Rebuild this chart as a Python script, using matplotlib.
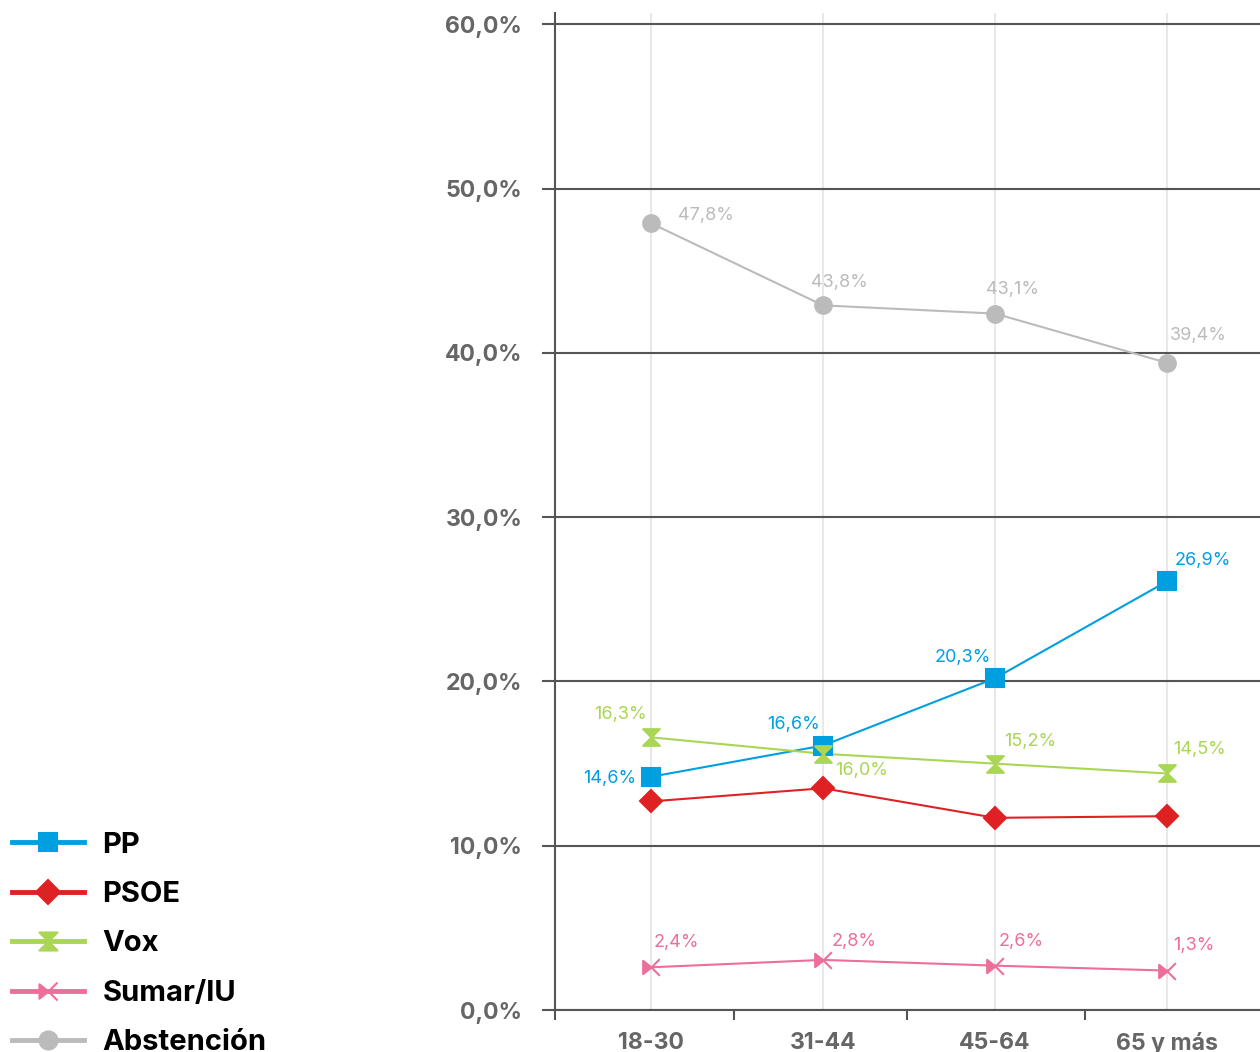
import numpy as np
import matplotlib
matplotlib.use("Agg")
import matplotlib.pyplot as plt
from matplotlib.path import Path

plt.rcParams['font.family'] = ['Inter', 'DejaVu Sans']

# =============================================================================
# Data
# =============================================================================

groups = ['18-30', '31-44', '45-64', '65 y más']

pp = [14.2, 16.1, 20.2, 26.1]
psoe = [12.7, 13.5, 11.7, 11.8]
vox = [16.6, 15.6, 15.0, 14.4]
sumar = [2.6, 3.05, 2.7, 2.4]
abst = [47.9, 42.9, 42.4, 39.4]

pp_lbl = ['14,6%', '16,6%', '20,3%', '26,9%']
psoe_lbl = None
vox_lbl = ['16,3%', '16,0%', '15,2%', '14,5%']
sumar_lbl = ['2,4%', '2,8%', '2,6%', '1,3%']
abst_lbl = ['47,8%', '43,8%', '43,1%', '39,4%']

yticks = [0, 10, 20, 30, 40, 50, 60]

# =============================================================================
# Markers
# =============================================================================

hourglass = Path([(-1, 1), (1, 1), (0, 0), (-1, -1), (1, -1), (0, 0), (-1, 1)],
                 [Path.MOVETO, Path.LINETO, Path.LINETO, Path.LINETO,
                  Path.LINETO, Path.LINETO, Path.CLOSEPOLY])
crossmark = Path([(-1, 0.8), (0, 0), (-1, -0.8), (-1, 0.8),
                  (0, 0), (1, 1), (0, 0), (1, -1)],
                 [Path.MOVETO, Path.LINETO, Path.LINETO, Path.CLOSEPOLY,
                  Path.MOVETO, Path.LINETO, Path.MOVETO, Path.LINETO])

series = [
    ('PP', pp, pp_lbl, '#009fdf', 's', 12.5),
    ('PSOE', psoe, psoe_lbl, '#e02124', 'D', 11),
    ('Vox', vox, vox_lbl, '#a9d654', hourglass, 12),
    ('Sumar/IU', sumar, sumar_lbl, '#ec6f9a', crossmark, 12),
    ('Abstención', abst, abst_lbl, '#bbbbbb', 'o', 12),
]

# label offsets in pixels (dx, dy, ha)
offsets = {
    'PP': [(-15, 0, 'right'), (-3, 23, 'right'), (-4, 23, 'right'), (8, 23, 'left')],
    'Vox': [(-4, 25, 'right'), (12, -15, 'left'), (9, 24, 'left'), (6, 26, 'left')],
    'Sumar/IU': [(3, 27, 'left'), (9, 20, 'left'), (4, 26, 'left'), (6, 27, 'left')],
    'Abstención': [(27, 10, 'left'), (-12, 25, 'left'), (-9, 26, 'left'), (3, 29, 'left')],
}

# =============================================================================
# Plot
# =============================================================================

fig = plt.figure(figsize=(12.6, 10.52), dpi=100)
ax = fig.add_axes([555 / 1260, 42 / 1052, 705 / 1260, 997 / 1052])

x = np.arange(len(groups))
handles = []
for name, vals, lbls, col, mk, ms in series:
    ax.plot(x, vals, '-', color=col, linewidth=1.5, zorder=3)
    ax.plot(x, vals, linestyle='none', marker=mk, markersize=ms,
            color=col, markeredgecolor=col, markeredgewidth=1.5, zorder=4)
    h, = ax.plot([], [], '-', color=col, linewidth=3.5, marker=mk,
                 markersize=ms + 1, markeredgecolor=col, markeredgewidth=1.5)
    handles.append(h)
    if lbls is None:
        continue
    for i, (v, t) in enumerate(zip(vals, lbls)):
        dx, dy, ha = offsets[name][i]
        ax.annotate(t, (x[i], v), xytext=(dx, dy - 2), textcoords='offset pixels',
                    ha=ha, va='center', color=col, fontsize=13, zorder=5)

# Axes limits
ax.set_xlim(-0.558, 3.54)
ax.set_ylim(0, 60.7)

# Y axis
ax.set_yticks(yticks)
ax.set_yticklabels([f'{v:.1f}%'.replace('.', ',') for v in yticks],
                   fontsize=16.6, fontweight='bold', color='#666666')
ax.tick_params(axis='y', length=9.5, width=1.5, color='#555555', pad=14)
ax.grid(axis='y', color='#555555', linewidth=1.5, zorder=1)

# X axis
ax.set_xticks([-0.558, 0.48, 1.49, 2.52])
ax.set_xticklabels([])
ax.set_xticks(x, minor=True)
ax.set_xticklabels(groups, minor=True, fontsize=16.6, fontweight='bold',
                   color='#666666')
ax.tick_params(axis='x', which='major', length=7, width=1.5, color='#555555')
ax.tick_params(axis='x', which='minor', length=0, pad=16)
ax.grid(axis='x', which='minor', color='#e8e8e8', linewidth=1.5, zorder=0)

# Box
for s in ['top', 'right']:
    ax.spines[s].set_visible(False)
for s in ['left', 'bottom']:
    ax.spines[s].set_color('#555555')
    ax.spines[s].set_linewidth(1.5)

# Legend
lgd = fig.legend(handles, [s[0] for s in series], loc='lower left',
                 bbox_to_anchor=(-0.002, -0.018), frameon=False,
                 prop={'size': 21, 'weight': 'bold'}, handlelength=2.45,
                 handletextpad=0.65, labelspacing=0.77, borderpad=0)

fig.savefig('out.png', dpi=100)
